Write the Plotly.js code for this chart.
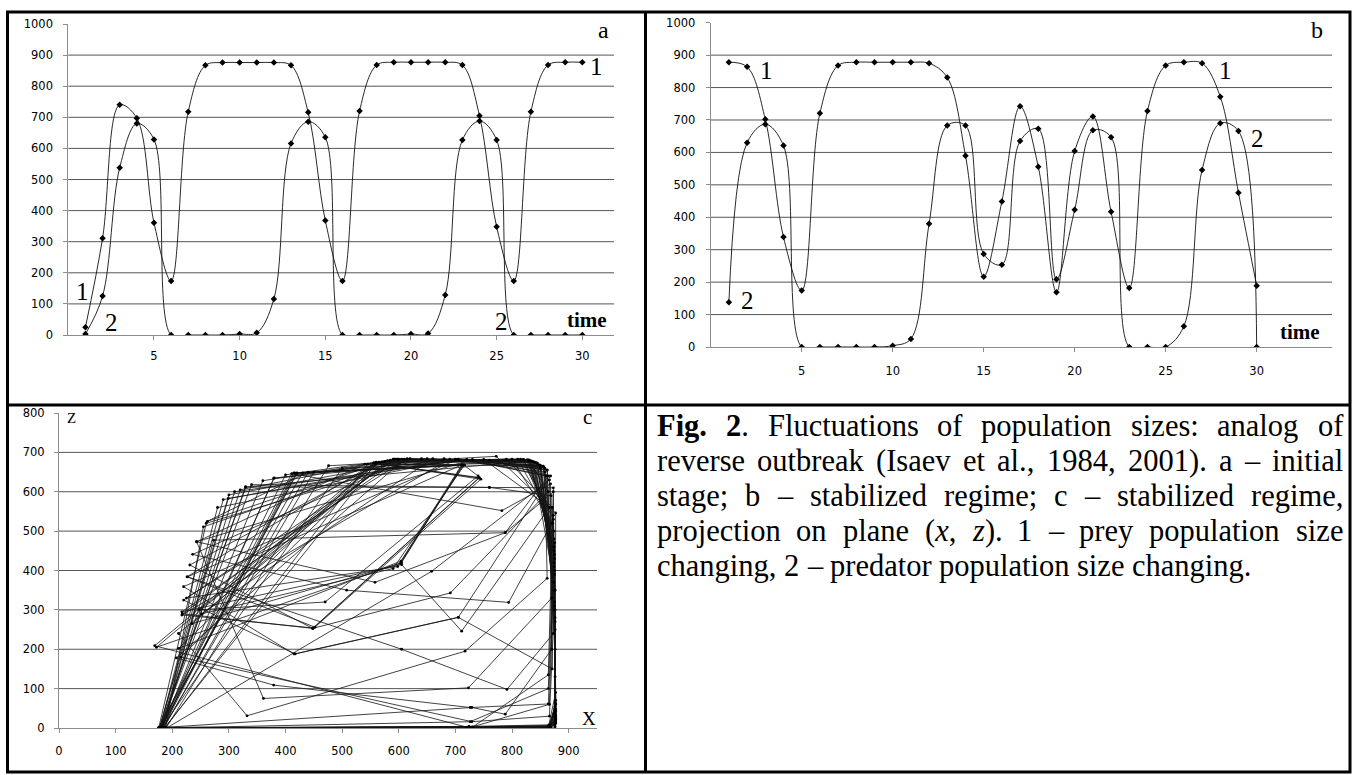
<!DOCTYPE html>
<html><head><meta charset="utf-8">
<script src="https://cdn.plot.ly/plotly-3.0.1.min.js"></script>
<style>html,body{margin:0;padding:0;background:#fff;} #chart{width:1358px;height:775px;}</style>
</head><body><div id="chart"></div>
<script>
// ---------- data ----------
const timeSteps = [1,2,3,4,5,6,7,8,9,10,11,12,13,14,15,16,17,18,19,20,21,22,23,24,25,26,27,28,29,30];
// panel a (initial stage)
const preyA = [25,311,740,697,361,174,718,867,876,876,876,876,867,716,368,174,720,868,877,877,877,877,868,705,348,174,718,868,877,877];
const predA = [3,125,538,680,629,0,0,0,0,3,7,116,616,686,636,0,0,0,0,3,5,129,627,688,627,0,0,0,0,0];
// panel b (stabilized regime)
const preyB = [878,864,702,339,174,721,868,878,878,878,878,875,831,590,217,449,742,556,169,604,711,417,182,728,868,878,875,772,476,189];
const predB = [138,630,687,621,0,0,0,0,0,4,25,380,683,683,287,254,635,673,209,423,668,647,0,0,0,64,546,690,666,0];
// panel c (projection on plane x,z) - trajectory
const phaseX = [
 176,730,868,876,877,875,860,720,420,180,
 728,866,874,850,640,300,177,
 725,867,876,876,871,790,560,226,452,745,560,172,605,712,415,181,
 722,866,877,875,835,590,218,448,742,556,211,604,711,417,183,
 727,868,876,877,772,476,189,
 731,864,873,760,330,178,
 719,867,877,875,845,650,379,185,
 726,864,874,820,540,243,361,723,870,862,700,299,180,
 729,788,870,868,782,411,176,
 724,865,877,874,830,605,255,188,
 730,866,876,873,788,273,183,
 720,867,877,876,855,711,220,415,705,868,760,500,181,
 728,868,877,872,810,570,231,448,691,864,830,329,179,
 723,866,876,875,848,620,236,508,794,870,800,560,186,
 726,867,877,874,838,600,217,605,711,866,750,380,180,
 721,865,876,874,826,580,211,332,717,862,858,680,290,178,
 729,868,877,876,858,705,227,605,791,873,866,658,190,
 724,866,877,875,842,610,207,379,726,864,875,830,450,184,
 727,867,877,874,836,595,220,417,705,871,869,760,340,179,
 722,866,876,876,862,730,243,558,788,864,720,310,182,
 725,867,877,873,815,565,215,729,866,876,850,640,260,176,
 728,868,877,875,852,690,217,449,742,556,169,
 726,867,877,875,840,600,360,182,
 724,866,876,874,828,585,247,470,740,715,560,235,603,713,420,180,
 729,868,877,876,856,700,280,178,
 721,865,877,873,820,575,262,440,185,
 727,867,876,875,844,615,225,598,714,430,176,
 724,866,877,874,832,592,320,181,
 728,868,877,876,850,660,252,590,716,545,187,
 722,866,876,874,834,598,400,179
];
const phaseZ = [
 0,0,1,3,30,300,640,681,648,0,
 2,60,420,660,683,592,0,
 0,2,8,130,560,683,675,384,256,632,672,205,420,668,648,0,
 1,4,45,470,678,683,290,253,636,673,202,424,668,647,0,
 0,0,64,546,690,666,0,
 3,135,610,611,612,2,
 0,1,20,350,672,684,634,0,
 16,100,500,682,670,473,75,102,330,655,682,583,1,
 52,35,200,620,552,646,0,
 4,8,90,450,680,683,511,0,
 1,3,40,600,496,477,0,
 0,0,12,250,665,668,359,188,281,640,680,660,0,
 0,1,70,520,683,676,414,253,343,600,678,612,0,
 2,5,35,320,668,684,441,350,319,520,683,672,0,
 0,2,25,410,676,682,295,415,246,560,682,635,0,
 1,4,55,480,681,679,240,31,195,380,650,684,580,0,
 0,0,18,280,660,683,384,200,98,240,630,398,0,
 3,6,48,430,674,683,178,109,52,61,440,680,650,0,
 0,1,28,370,677,683,325,188,281,150,590,611,618,0,
 0,2,15,200,655,682,473,370,496,640,682,600,0,
 1,3,60,540,683,675,180,16,30,350,666,684,520,0,
 0,2,22,310,664,683,287,254,635,673,209,
 0,1,33,390,675,683,628,0,
 2,3,50,460,681,680,300,320,640,668,671,265,418,668,646,0,
 0,0,16,270,663,683,560,0,
 1,4,62,530,682,677,525,650,0,
 0,2,30,400,673,684,330,410,667,648,0,
 3,5,42,440,679,683,605,0,
 0,1,20,300,667,684,290,405,668,670,0,
 0,3,38,460,678,683,643,0
];
const timeTicks = [5,10,15,20,25,30];
const popTicks = [0,100,200,300,400,500,600,700,800,900,1000];
const popGrid = [100,200,300,400,500,600,700,800,900];
const phaseXTicks = [0,100,200,300,400,500,600,700,800,900];
const phaseZTicks = [0,100,200,300,400,500,600,700,800];
const phaseGrid = [100,200,300,400,500,600,700];
const captionLines = [
 "<b>Fig. 2</b>. Fluctuations of population sizes: analog of",
 "reverse outbreak (Isaev et al., 1984, 2001). a – initial",
 "stage; b – stabilized regime; c – stabilized regime,",
 "projection on plane (<i>x</i>, <i>z</i>). 1 – prey population size",
 "changing, 2 – predator population size changing."
];

// ---------- layout helpers ----------
const W = 1358, H = 775;
const PX = p => p / W;
const PY = p => 1 - p / H;
const tickFont = {family: 'DejaVu Sans, Arial, sans-serif', size: 11.5, color: '#000'};
const serif = 'Liberation Serif, Times New Roman, serif';
const axisGray = '#8c8c8c';
const gridCol = '#555';

function axisBase(extra) {
  return Object.assign({
    showline: true, linecolor: axisGray, linewidth: 1,
    ticks: 'outside', ticklen: 4, tickcolor: axisGray, tickwidth: 1,
    showgrid: false, zeroline: false, tickfont: tickFont, fixedrange: true
  }, extra);
}

const lineStyle = {color: '#111', width: 0.9, shape: 'spline', smoothing: 1};
const markStyle = {symbol: 'diamond', size: 5, color: '#000'};

const traces = [
  {x: timeSteps, y: preyA, xaxis: 'x', yaxis: 'y', mode: 'lines+markers', line: lineStyle, marker: markStyle, name: '1'},
  {x: timeSteps, y: predA, xaxis: 'x', yaxis: 'y', mode: 'lines+markers', line: lineStyle, marker: markStyle, name: '2'},
  {x: timeSteps, y: preyB, xaxis: 'x2', yaxis: 'y2', mode: 'lines+markers', line: lineStyle, marker: markStyle, name: '1'},
  {x: timeSteps, y: predB, xaxis: 'x2', yaxis: 'y2', mode: 'lines+markers', line: lineStyle, marker: markStyle, name: '2'},
  {x: phaseX, y: phaseZ, xaxis: 'x3', yaxis: 'y3', mode: 'lines+markers',
   line: {color: '#141414', width: 0.8}, marker: {size: 2.8, color: '#000'}, name: 'c'}
];

const shapes = [];
popGrid.forEach(v => {
  shapes.push({type: 'line', layer: 'below', xref: 'x domain', yref: 'y', x0: 0, x1: 1, y0: v, y1: v, line: {color: gridCol, width: 1}});
  shapes.push({type: 'line', layer: 'below', xref: 'x2 domain', yref: 'y2', x0: 0, x1: 1, y0: v, y1: v, line: {color: gridCol, width: 1}});
});
phaseGrid.forEach(v => {
  shapes.push({type: 'line', layer: 'below', xref: 'x3 domain', yref: 'y3', x0: 0, x1: 1, y0: v, y1: v, line: {color: gridCol, width: 1}});
});
// frame of the figure table
const frame = {color: '#000', width: 3};
shapes.push({type: 'rect', xref: 'paper', yref: 'paper', x0: PX(7.5), x1: PX(1350), y0: PY(12), y1: PY(772), line: frame});
shapes.push({type: 'line', xref: 'paper', yref: 'paper', x0: PX(645.5), x1: PX(645.5), y0: PY(12), y1: PY(772), line: frame});
shapes.push({type: 'line', xref: 'paper', yref: 'paper', x0: PX(7.5), x1: PX(1350), y0: PY(405), y1: PY(405), line: frame});

function lab(text, px, py, size, extra) {
  return Object.assign({text: text, xref: 'paper', yref: 'paper', x: PX(px), y: PY(py),
    showarrow: false, xanchor: 'center', yanchor: 'middle',
    font: {family: serif, size: size, color: '#000'}}, extra || {});
}
const annotations = [
  lab('a', 603, 30, 24), lab('1', 596, 67, 25), lab('1', 82, 291, 25), lab('2', 111, 322, 25), lab('2', 501, 321, 25),
  lab('<b>time</b>', 587, 320, 21),
  lab('b', 1317, 30, 24), lab('1', 766, 71, 25), lab('2', 747, 300, 25), lab('1', 1225, 71, 25), lab('2', 1257, 139, 25),
  lab('<b>time</b>', 1300, 332, 21),
  lab('c', 587, 417, 21), lab('Z', 71, 418, 15), lab('X', 589, 718, 19)
];

// caption: justified lines, one annotation per word
(function () {
  const size = 30.5, left = 657, right = 1343, top = 426, step = 35;
  const ctx = document.createElement('canvas').getContext('2d');
  function parse(line) {
    const parts = line.split(/(<\/?[bi]>)/);
    let b = false, it = false; const words = []; let cur = [];
    parts.forEach(p => {
      if (p === '<b>') { b = true; return; } if (p === '</b>') { b = false; return; }
      if (p === '<i>') { it = true; return; } if (p === '</i>') { it = false; return; }
      const chunks = p.split(' ');
      chunks.forEach((c, k) => {
        if (k > 0) { if (cur.length) words.push(cur); cur = []; }
        if (c.length) cur.push({t: c, b: b, i: it});
      });
    });
    if (cur.length) words.push(cur);
    return words;
  }
  function fontStr(s) { return (s.i ? 'italic ' : '') + (s.b ? 'bold ' : '') + size + 'px "Liberation Serif"'; }
  function width(word) { return word.reduce((a, s) => { ctx.font = fontStr(s); return a + ctx.measureText(s.t).width; }, 0); }
  function html(word) { return word.map(s => { let t = s.t; if (s.i) t = '<i>' + t + '</i>'; if (s.b) t = '<b>' + t + '</b>'; return t; }).join(''); }
  ctx.font = size + 'px "Liberation Serif"';
  const space = ctx.measureText(' ').width;
  captionLines.forEach((line, li) => {
    const words = parse(line);
    const ws = words.map(width);
    const total = ws.reduce((a, v) => a + v, 0);
    const last = li === captionLines.length - 1;
    const gap = last ? space : (right - left - total) / (words.length - 1);
    let x = left;
    words.forEach((w, k) => {
      annotations.push({text: html(w), xref: 'paper', yref: 'paper', x: PX(x - 1), y: PY(top + li * step),
        xanchor: 'left', yanchor: 'middle', showarrow: false, borderpad: 0,
        font: {family: serif, size: size, color: '#000'}});
      x += ws[k] + gap;
    });
  });
})();

const layout = {
  width: W, height: H, margin: {l: 0, r: 0, t: 0, b: 0},
  paper_bgcolor: '#fff', plot_bgcolor: 'rgba(0,0,0,0)', showlegend: false,
  xaxis: axisBase({domain: [PX(68.3), PX(614)], range: [0, 31.85], tickvals: timeTicks, anchor: 'y', ticklabelstandoff: 6}),
  yaxis: axisBase({domain: [PY(335), PY(24)], range: [0, 1000], tickvals: popTicks, anchor: 'x', ticklabelstandoff: 8}),
  xaxis2: axisBase({domain: [PX(710.7), PX(1332)], range: [0, 34.14], tickvals: timeTicks, anchor: 'y2', ticklabelstandoff: 9}),
  yaxis2: axisBase({domain: [PY(347), PY(22.7)], range: [0, 1000], tickvals: popTicks, anchor: 'x2', ticklabelstandoff: 8}),
  xaxis3: axisBase({domain: [PX(59), PX(597)], range: [0, 950], tickvals: phaseXTicks, anchor: 'y3', ticklabelstandoff: 8}),
  yaxis3: axisBase({domain: [PY(728), PY(413)], range: [0, 800], tickvals: phaseZTicks, anchor: 'x3', ticklabelstandoff: 7}),
  shapes: shapes, annotations: annotations
};

Plotly.newPlot('chart', traces, layout, {displayModeBar: false, staticPlot: true});
</script></body></html>
